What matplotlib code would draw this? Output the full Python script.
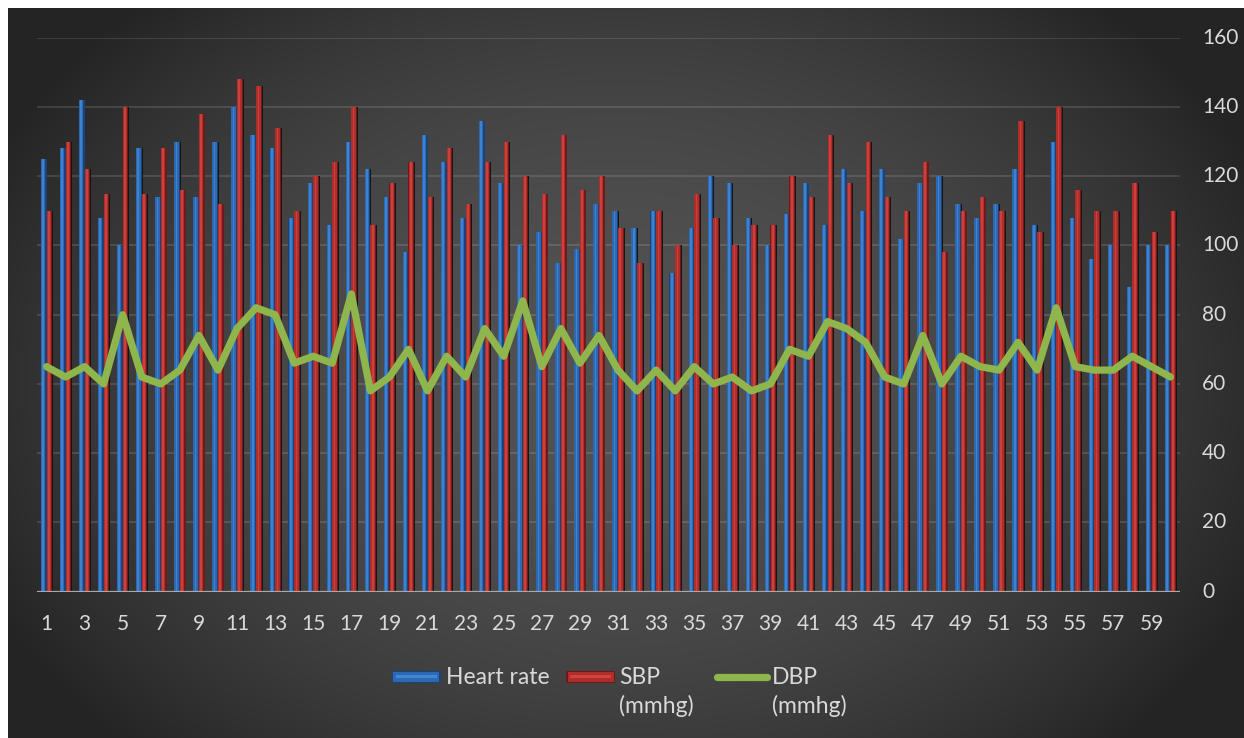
import numpy as np
import matplotlib
matplotlib.use("Agg")
import matplotlib.pyplot as plt
from matplotlib.patches import Rectangle
from matplotlib.lines import Line2D

# ---- data -------------------------------------------------------------
subjects = list(range(1, 61))

heart_rate = [125, 128, 142, 108, 100, 128, 114, 130, 114, 130,
              140, 132, 128, 108, 118, 106, 130, 122, 114, 98,
              132, 124, 108, 136, 118, 100, 104, 95, 99, 112,
              110, 105, 110, 92, 105, 120, 118, 108, 100, 109,
              118, 106, 122, 110, 122, 102, 118, 120, 112, 108,
              112, 122, 106, 130, 108, 96, 100, 88, 100, 100]

sbp = [110, 130, 122, 115, 140, 115, 128, 116, 138, 112,
       148, 146, 134, 110, 120, 124, 140, 106, 118, 124,
       114, 128, 112, 124, 130, 120, 115, 132, 116, 120,
       105, 95, 110, 100, 115, 108, 100, 106, 106, 120,
       114, 132, 118, 130, 114, 110, 124, 98, 110, 114,
       110, 136, 104, 140, 116, 110, 110, 118, 104, 110]

dbp = [65, 62, 65, 60, 80, 62, 60, 64, 74, 64,
       76, 82, 80, 66, 68, 66, 86, 58, 62, 70,
       58, 68, 62, 76, 68, 84, 65, 76, 66, 74,
       64, 58, 64, 58, 65, 60, 62, 58, 60, 70,
       68, 78, 76, 72, 62, 60, 74, 60, 68, 65,
       64, 72, 64, 82, 65, 64, 64, 68, 65, 62]

y_ticks = [0, 20, 40, 60, 80, 100, 120, 140, 160]
x_tick_labels = [str(s) for s in subjects[::2]]

series_labels = ["Heart rate", "SBP\n(mmhg)", "DBP\n(mmhg)"]

# ---- style ------------------------------------------------------------
FONT = ["Lato", "DejaVu Sans"]
plt.rcParams["font.family"] = FONT
FS = 16.5       # legend text
FS_TICK = 15    # axis numbers
TXT = "#d9d9d9"
BLUE, BLUE_HI, BLUE_LO = "#2d69b2", "#4186d6", "#1c4376"
RED, RED_HI, RED_LO = "#af2e2b", "#d2433d", "#6e1a19"
GREEN = "#8fb64c"

W, H = 1244, 738
fig = plt.figure(figsize=(W / 100, H / 100), dpi=100, facecolor="white")

# dark radial-gradient chart area
bg = fig.add_axes([8 / W, 0, 1 - 8 / W, (H - 8) / H], zorder=0)
gx, gy = np.meshgrid(np.arange(8, W), np.arange(8, H))
r2 = ((gx - 620) / 700.0) ** 2 + ((gy - 380) / 520.0) ** 2
val = 36 + 46 * np.clip(1 - r2, 0, 1)
img = np.dstack([val, val, val]) / 255.0
bg.imshow(img, aspect="auto", interpolation="bilinear")
bg.set_axis_off()

# main plot area
x0, x1 = 37 / W, 1180 / W
yb, yt = 1 - 591.7 / H, 1 - 37.7 / H
ax = fig.add_axes([x0, yb, x1 - x0, yt - yb], zorder=1)
ax.set_facecolor("none")
for s in ax.spines.values():
    s.set_visible(False)

x = np.array(subjects, dtype=float)
bw = 0.3
hr = np.array(heart_rate, dtype=float)
sb = np.array(sbp, dtype=float)

# bevelled bars: dark right edge, body, lighter centre strip
for offs, vals, base, hi, lo in [(-bw / 2, hr, BLUE, BLUE_HI, BLUE_LO),
                                 (bw / 2, sb, RED, RED_HI, RED_LO)]:
    ax.bar(x + offs + 0.04, vals, width=bw, color="#151515", zorder=2)
    ax.bar(x + offs, vals, width=bw, color=lo, zorder=3)
    ax.bar(x + offs - 0.03, vals, width=bw - 0.07, color=base, zorder=3)
    ax.bar(x + offs - 0.03, vals, width=0.09, color=hi, zorder=3, alpha=0.85)

ax.plot(x, dbp, color=GREEN, lw=5.2, solid_joinstyle="round",
        solid_capstyle="round", zorder=5)

ax.set_xlim(0.5, 60.5)
ax.set_ylim(0, 160)
ax.set_yticks(y_ticks)
ax.set_xticks(subjects[::2])
ax.set_xticklabels(x_tick_labels)
ax.tick_params(axis="both", length=0, colors=TXT, labelsize=FS_TICK)
ax.tick_params(axis="x", pad=16)
ax.tick_params(axis="y", left=False, right=False,
               labelleft=False, labelright=False)

# value axis labels on the right-hand side
for v in y_ticks:
    ax.annotate(str(v), xy=(1, v), xycoords=ax.get_yaxis_transform(),
                xytext=(16, 0), textcoords="offset points",
                ha="left", va="center", color=TXT, fontsize=FS_TICK)

ax.grid(axis="y", color="#ffffff", alpha=0.12, lw=1.5, zorder=1)
ax.axhline(0, color="#a8a8a8", lw=1.6, zorder=6)

# legend
def fx(px):
    return px / W

def fy(py):
    return 1 - py / H

def bevel_patch(xl, xr, yc, base, hi, lo):
    h = 12.5
    fig.add_artist(Rectangle((fx(xl), fy(yc + h / 2)), fx(xr - xl), h / H,
                             facecolor=lo, edgecolor="none", zorder=3))
    fig.add_artist(Rectangle((fx(xl + 1.5), fy(yc + h / 2 - 1.5)), fx(xr - xl - 3),
                             (h - 3) / H, facecolor=base, edgecolor="none", zorder=3))
    fig.add_artist(Rectangle((fx(xl + 4), fy(yc + 1)), fx(xr - xl - 8),
                             3 / H, facecolor=hi, edgecolor="none", zorder=3))

leg_y = 677
bevel_patch(392, 441, leg_y, BLUE, BLUE_HI, BLUE_LO)
fig.text(fx(446), fy(leg_y), series_labels[0], color=TXT, fontsize=FS,
         va="center", ha="left", zorder=3)
bevel_patch(566, 615, leg_y, RED, RED_HI, RED_LO)
for i, part in enumerate(series_labels[1].split("\n")):
    fig.text(fx(619), fy(leg_y + 29 * i), part, color=TXT, fontsize=FS,
             va="center", ha="left", zorder=3)
fig.add_artist(Line2D([fx(717), fx(767)], [fy(leg_y), fy(leg_y)], color=GREEN,
                      lw=5.2, solid_capstyle="round", zorder=3))
for i, part in enumerate(series_labels[2].split("\n")):
    fig.text(fx(772), fy(leg_y + 29 * i), part, color=TXT, fontsize=FS,
             va="center", ha="left", zorder=3)

fig.savefig("out.png", dpi=100, facecolor="white")
